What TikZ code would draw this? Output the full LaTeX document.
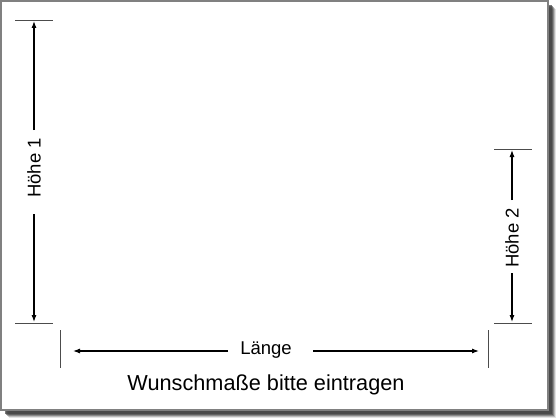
\documentclass[tikz,border=0pt]{standalone}
\usepackage{fontspec}
\setmainfont{Liberation Sans}
\usetikzlibrary{arrows.meta}

\begin{document}
\begin{tikzpicture}[x=1pt,y=-1pt,
    tick/.style={line width=0.8pt, black!70},
    dim/.style={line width=1.1pt, -{Latex[length=7pt,width=5pt]}},
    label/.style={font=\fontsize{18.5}{18.5}\selectfont, inner sep=0pt}]

    \useasboundingbox (0,0) rectangle (560,420);

    % Shadow and frame
    \foreach \s/\o in {8/0.15, 7/0.25, 6/0.4, 5/0.55, 4/0.7} {
      \fill[black!75, opacity=\o] (1+\s,1+\s) rectangle (548+\s,410+\s);
    }
    \draw[draw=black!50, fill=white, line width=1.5pt] (1,1) rectangle (548,410);

    % Left side: Hoehe 1
    \draw[tick] (15,20) -- (53,20);
    \draw[tick] (15,323) -- (53,323);
    \node[label, rotate=90] (h1) at (34,168) {Höhe 1};
    \coordinate (h1top) at (34,21);
    \coordinate (h1bot) at (34,322);
    \draw[dim] (34,130) -- (h1top);
    \draw[dim] (34,214) -- (h1bot);

    % Right side: Hoehe 2
    \draw[tick] (494,149) -- (532,149);
    \draw[tick] (494,323) -- (532,323);
    \node[label, rotate=90] (h2) at (512,238) {Höhe 2};
    \coordinate (h2top) at (512,150);
    \coordinate (h2bot) at (512,322);
    \draw[dim] (512,200) -- (h2top);
    \draw[dim] (512,273) -- (h2bot);

    % Bottom: Laenge
    \draw[tick] (60,330) -- (60,368);
    \draw[tick] (488,330) -- (488,368);
    \node[label] (len) at (266,350) {Länge};
    \coordinate (lenl) at (73,351);
    \coordinate (lenr) at (479,351);
    \draw[dim] (228,351) -- (lenl);
    \draw[dim] (313,351) -- (lenr);

    % Caption
    \node[font=\fontsize{21.7}{21.7}\selectfont] (cap) at (266,385) {Wunschmaße bitte eintragen};

\end{tikzpicture}
\end{document}
